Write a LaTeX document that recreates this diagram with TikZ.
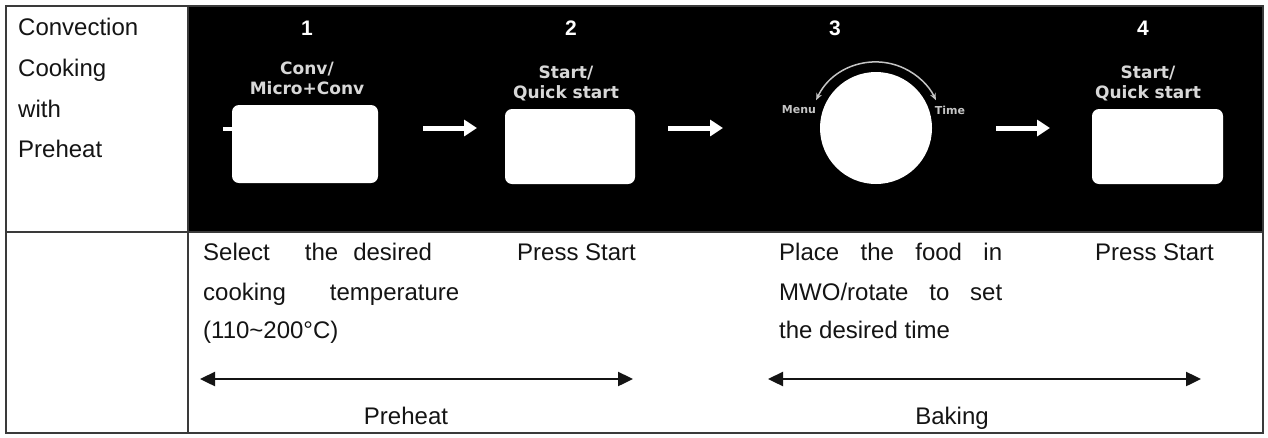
\documentclass[tikz,border=0pt]{standalone}
\usepackage{fontspec}
\setmainfont{Liberation Sans}
\newfontfamily\keyfont{DejaVu Sans}
\usetikzlibrary{arrows.meta,calc}
\definecolor{keygray}{HTML}{D8D8D8}
\definecolor{smallgray}{HTML}{C4C4C4}
\definecolor{gridline}{HTML}{3A3A3A}
\definecolor{ink}{HTML}{141414}
\begin{document}
\begin{tikzpicture}[x=1pt,y=-1pt,
  grid/.style={draw=gridline, line width=1.3pt},
  body/.style={font=\fontsize{24}{24}\selectfont, text=ink, inner sep=0pt, anchor=base west},
  num/.style={font=\fontsize{21}{21}\selectfont\bfseries, text=white, inner sep=0pt, anchor=base},
  keylbl/.style={font=\keyfont\bfseries\fontsize{17}{19.5}\selectfont, text=keygray, align=center, inner sep=0pt, anchor=north},
  smalllbl/.style={font=\keyfont\bfseries\fontsize{11}{11}\selectfont, text=smallgray, inner sep=0pt},
  btn/.style={fill=white, rounded corners=7pt, draw=none, inner sep=0pt},
  warrow/.style={white, line width=5pt, -{Triangle[length=13pt,width=16pt]}},
  darrow/.style={ink, line width=2.4pt, {Triangle[length=15pt,width=14pt]}-{Triangle[length=15pt,width=14pt]}},
  dialarc/.style={smallgray, line width=1.5pt, {Stealth[length=7pt,width=6pt]}-{Stealth[length=7pt,width=6pt]}}
]
\path[use as bounding box, fill=white] (0,0) rectangle (1268,437);
\fill[black] (188,6) rectangle (1263,232);
\draw[grid] (6,6) rectangle (1263,433);
\draw[grid] (6,232) -- (1263,232);
\draw[grid] (188,6) -- (188,433);

% left column
\node[body] (c1) at (18,35) {Convection};
\node[body] (c2) at (18,76) {Cooking};
\node[body] (c3) at (18,117) {with};
\node[body] (c4) at (18,157) {Preheat};

% step numbers
\node[num] (n1) at (307,35) {1};
\node[num] (n2) at (571,35) {2};
\node[num] (n3) at (835,35) {3};
\node[num] (n4) at (1143,35) {4};

% key labels
\node[keylbl] (k1) at (307,62) {Conv/\\Micro+Conv};
\node[keylbl] (k2) at (566,66) {Start/\\Quick start};
\node[keylbl] (k4) at (1148,66) {Start/\\Quick start};

% buttons
\node[btn, minimum width=146pt, minimum height=78pt] (b1) at (305,144) {};
\node[btn, minimum width=130pt, minimum height=75pt] (b2) at (570,146.5) {};
\node[btn, minimum width=131pt, minimum height=75pt] (b4) at (1157.5,146.5) {};
\coordinate (t1) at (223,129);
\coordinate (t2) at (234,129);
\draw[white, line width=3.5pt] (t1) -- (t2);

% dial
\node[circle, fill=white, minimum size=112pt, inner sep=0pt] (dial) at (876,128) {};
\draw[dialarc] ($(dial.center)+(-155:66)$) arc[start angle=-155, end angle=-25, radius=66];
\node[smalllbl] (menu) at (799,110) {Menu};
\node[smalllbl] (time) at (950,110) {Time};

% white arrows
\coordinate (a1s) at (423,128); \coordinate (a1e) at (477,128);
\coordinate (a2s) at (668,128); \coordinate (a2e) at (723,128);
\coordinate (a3s) at (996,128); \coordinate (a3e) at (1050,128);
\draw[warrow] (a1s) -- (a1e);
\draw[warrow] (a2s) -- (a2e);
\draw[warrow] (a3s) -- (a3e);

% bottom row texts
\node[body] (s1) at (203,260) {Select\hspace{35pt}the\hspace{15pt}desired};
\node[body] (s2) at (203,300) {cooking\hspace{44pt}temperature};
\node[body] (s3) at (203,338) {(110\textasciitilde200°C)};
\node[body] (p1) at (517,260) {Press Start};
\node[body] (f1) at (779,260) {\makebox[223pt][l]{Place\hfill the\hfill food\hfill in}};
\node[body] (f2) at (779,300) {\makebox[223pt][l]{MWO/rotate\hfill to\hfill set}};
\node[body] (f3) at (779,338) {the desired time};
\node[body] (p2) at (1095,260) {Press Start};

% phase arrows
\coordinate (ph1) at (200,379); \coordinate (ph2) at (633,379);
\coordinate (bk1) at (768,379); \coordinate (bk2) at (1201,379);
\draw[darrow] (ph1) -- (ph2);
\draw[darrow] (bk1) -- (bk2);
\node[body, anchor=base] (pre) at (406,424) {Preheat};
\node[body, anchor=base] (bak) at (952,424) {Baking};
\end{tikzpicture}
\end{document}
